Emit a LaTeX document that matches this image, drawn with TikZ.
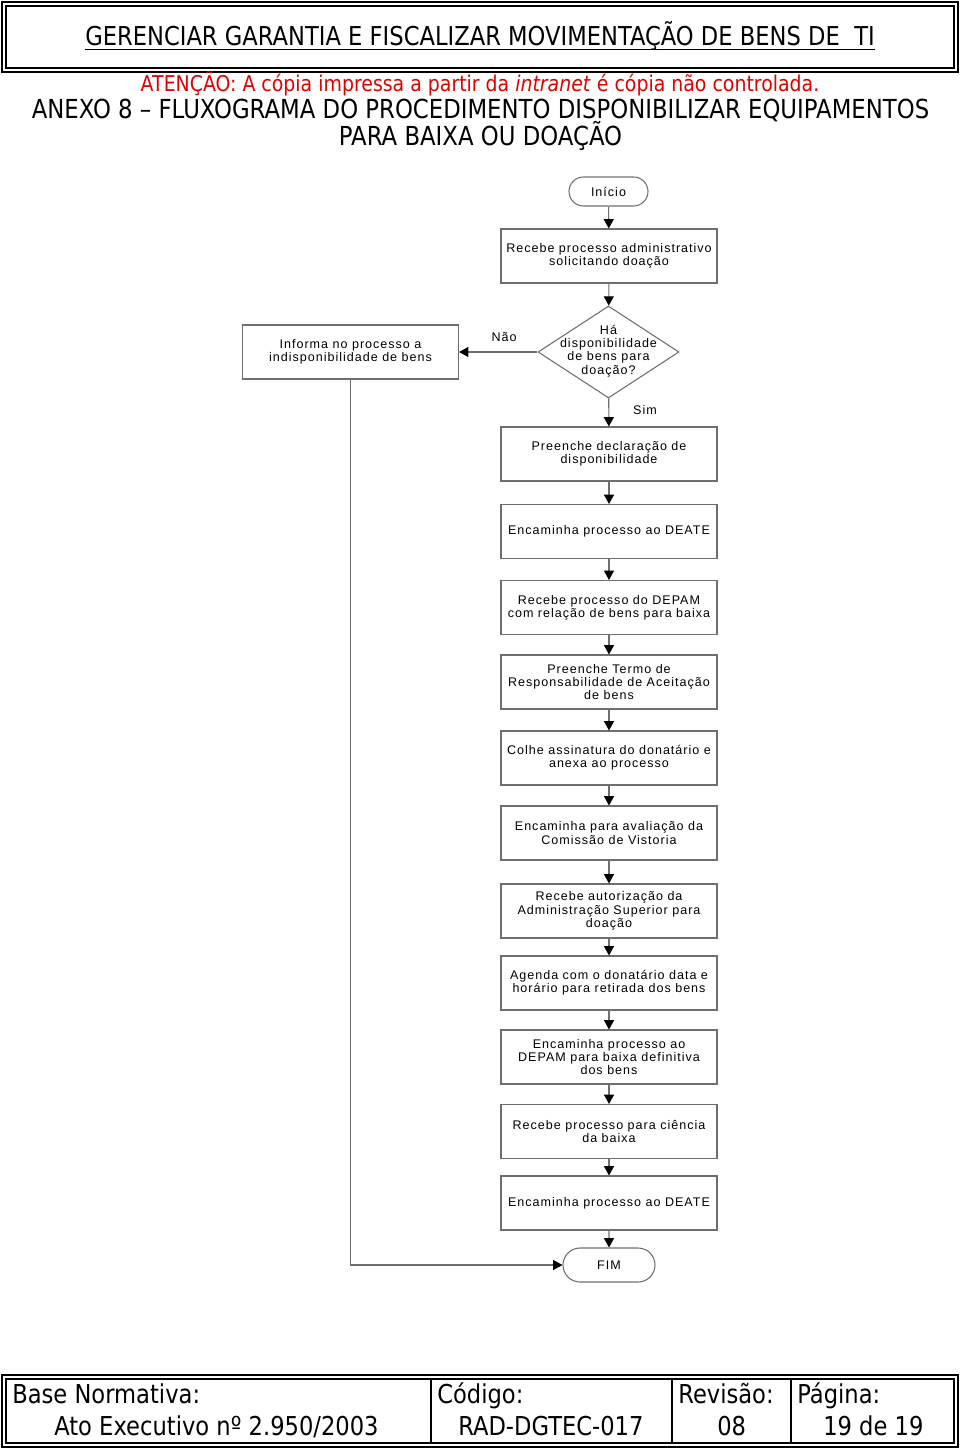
\documentclass[tikz,border=0pt]{standalone}
\usepackage{fontspec}
\setmainfont{Liberation Sans}
\newfontfamily\flowfont{Liberation Sans}[LetterSpace=8]
\newfontfamily\headfont{DejaVu Sans}[FakeStretch=0.87]
\usetikzlibrary{arrows.meta,shapes.geometric,shapes.misc}
\definecolor{linha}{RGB}{110,110,110}
\definecolor{aviso}{RGB}{225,0,0}
\tikzset{
  passo/.style={draw=linha,line width=0.8pt,minimum width=162pt,minimum height=40.5pt,
    inner sep=0pt,align=center,font=\flowfont\fontsize{9.4}{10}\selectfont},
  terminal/.style={draw=linha,line width=0.8pt,rounded rectangle,inner sep=0pt,
    font=\flowfont\fontsize{9.4}{10}\selectfont},
  decisao/.style={draw=linha,line width=0.8pt,diamond,minimum width=105.75pt,
    minimum height=69pt,inner sep=0pt},
  rotulo/.style={inner sep=0pt,align=center,font=\flowfont\fontsize{9.4}{10}\selectfont},
  seta/.style={draw=linha,line width=0.8pt,-{Triangle[width=7.5pt,length=7pt,color=black]}},
  cabeca/.style={inner sep=0pt,font=\headfont\fontsize{19.5}{22}\selectfont},
  moldura/.style={line width=1.5pt},
  moldurafina/.style={line width=0.9pt}
}
\begin{document}
\begin{tikzpicture}[x=0.75pt,y=-0.75pt]
  \useasboundingbox (0,0) rectangle (960,1451);
  % cabecalho
  \draw[moldura] (2,2) rectangle (958,72);
  \draw[moldurafina] (6,6) rectangle (954,68);
  \node[cabeca,anchor=base] (titulo) at (480,46) {GERENCIAR GARANTIA E FISCALIZAR MOVIMENTAÇÃO DE BENS DE\ \ TI};
  \draw[line width=1.2pt] ([yshift=-2.6pt]titulo.base west) -- ([yshift=-2.6pt]titulo.base east);
  \node[cabeca,anchor=base,text=aviso,font=\headfont\fontsize{16.3}{20}\selectfont] (atencao) at (480,92)
    {ATENÇÃO: A cópia impressa a partir da \textit{intranet} é cópia não controlada.};
  \node[cabeca,anchor=base,font=\headfont\fontsize{19.65}{24}\selectfont] (anexo) at (480.5,119)
    {ANEXO 8 – FLUXOGRAMA DO PROCEDIMENTO DISPONIBILIZAR EQUIPAMENTOS};
  \node[cabeca,anchor=base,font=\headfont\fontsize{19.65}{24}\selectfont] (anexob) at (480.5,146)
    {PARA BAIXA OU DOAÇÃO};

  % fluxograma
  \node[terminal,minimum width=59.25pt,minimum height=21.75pt] (inicio) at (608.5,191.5) {Início};
  \node[passo] (recebe) at (609,256) {Recebe processo administrativo\\solicitando doação};
  \node[decisao] (ha) at (608.5,352) {};
  \node[rotulo] (hatxt) at (608.5,351) {Há\\disponibilidade\\de bens para\\doação?};
  \node[passo] (informa) at (350.5,352) {Informa no processo a\\indisponibilidade de bens};
  \node[passo] (declara) at (609,454) {Preenche declaração de\\disponibilidade};
  \node[passo] (deate) at (609,531.5) {Encaminha processo ao DEATE};
  \node[passo] (depam) at (609,607.5) {Recebe processo do DEPAM\\com relação de bens para baixa};
  \node[passo] (termo) at (609,682) {Preenche Termo de\\Responsabilidade de Aceitação\\de bens};
  \node[passo] (colhe) at (609,758) {Colhe assinatura do donatário e\\anexa ao processo};
  \node[passo] (vistoria) at (609,833) {Encaminha para avaliação da\\Comissão de Vistoria};
  \node[passo] (autoriza) at (609,911) {Recebe autorização da\\Administração Superior para\\doação};
  \node[passo] (agenda) at (609,983) {Agenda com o donatário data e\\horário para retirada dos bens};
  \node[passo] (baixa) at (609,1057) {Encaminha processo ao\\DEPAM para baixa definitiva\\dos bens};
  \node[passo] (ciencia) at (609,1131.5) {Recebe processo para ciência\\da baixa};
  \node[passo] (deateb) at (609,1203) {Encaminha processo ao DEATE};
  \node[terminal,minimum width=69pt,minimum height=25.5pt] (fim) at (609,1265) {FIM};
  \node[rotulo] (nao) at (504,337) {Não};
  \node[rotulo] (sim) at (645,410) {Sim};

  \draw[seta] (inicio) -- (recebe);
  \draw[seta] (recebe) -- (ha);
  \draw[seta] (ha) -- (informa);
  \draw[seta] (ha) -- (declara);
  \draw[seta] (declara) -- (deate);
  \draw[seta] (deate) -- (depam);
  \draw[seta] (depam) -- (termo);
  \draw[seta] (termo) -- (colhe);
  \draw[seta] (colhe) -- (vistoria);
  \draw[seta] (vistoria) -- (autoriza);
  \draw[seta] (autoriza) -- (agenda);
  \draw[seta] (agenda) -- (baixa);
  \draw[seta] (baixa) -- (ciencia);
  \draw[seta] (ciencia) -- (deateb);
  \draw[seta] (deateb) -- (fim);
  \draw[seta] (informa.south) |- (fim.west);

  % rodape
  \draw[moldura] (2,1375) rectangle (958,1447);
  \draw[moldurafina] (6,1379) rectangle (954,1443);
  \foreach \x in {431,672,791}
    \draw[moldurafina] (\x,1379) -- (\x,1443);
  \node[cabeca,anchor=base west] (base) at (12,1403) {Base Normativa:};
  \node[cabeca,anchor=base west] (ato) at (54,1435) {Ato Executivo nº 2.950/2003};
  \node[cabeca,anchor=base west] (codigo) at (437,1403) {Código:};
  \node[cabeca,anchor=base west] (rad) at (458,1435) {RAD-DGTEC-017};
  \node[cabeca,anchor=base west] (revisao) at (678,1403) {Revisão:};
  \node[cabeca,anchor=base west] (rev) at (717,1435) {08};
  \node[cabeca,anchor=base west] (pagina) at (797,1403) {Página:};
  \node[cabeca,anchor=base west] (pag) at (823,1435) {19 de 19};
\end{tikzpicture}
\end{document}
